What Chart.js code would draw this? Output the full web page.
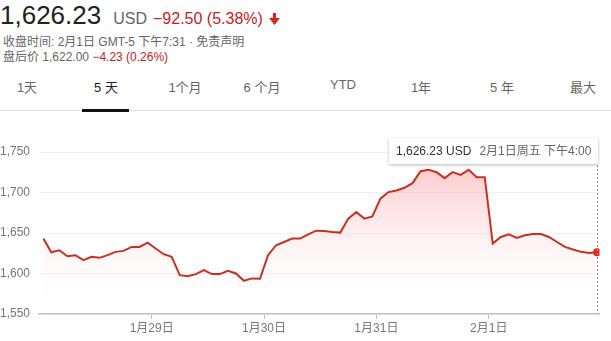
<!DOCTYPE html>
<html>
<head>
<meta charset="utf-8">
<script src="https://cdn.jsdelivr.net/npm/chart.js@4.4.0/dist/chart.umd.min.js"></script>
<style>
  body { margin: 0; width: 611px; height: 341px; overflow: hidden; background: #fff;
         font-family: 'Liberation Sans', Arial, 'Noto Sans CJK SC', sans-serif; position: relative; }
  .abs { position: absolute; white-space: nowrap; }
  #price { left: 0; top: 0px; font-size: 26px; color: #222; }
  #price .cur { font-size: 16px; color: #666; margin-left: 12px; }
  #price .chg { font-size: 16px; color: #c5221f; margin-left: 6px; }
  #price svg { margin-left: 6px; vertical-align: -1px; }
  .sub { left: 3px; font-size: 12px; color: #666; }
  .red { color: #c5221f; }
  .tab { top: 77px; font-size: 13px; color: #666; transform: translateX(-50%); }
  .tab.on { color: #222; }
  #sep { left: 0; top: 110px; width: 611px; height: 1px; background: #e2e2e2; }
  #bar { left: 82px; top: 109px; width: 47px; height: 3px; background: #111; }
  #chart { position: absolute; left: 0; top: 120px; }
  #tip { left: 389px; top: 138px; width: 209px; height: 26px; background: #fff;
         box-shadow: 0 1px 3px rgba(0,0,0,0.28); font-size: 12px; line-height: 26px; }
  #tip .v { color: #333; margin-left: 7px; }
  #tip .d { color: #666; margin-left: 8px; }
</style>
</head>
<body>
<div id="price" class="abs">1,626.23<span class="cur">USD</span><span class="chg">−92.50 (5.38%)</span><svg width="11" height="12" viewBox="0 0 11 12"><rect x="4" y="0" width="3" height="6" fill="#d5281c"/><polygon points="0,5 11,5 5.5,12" fill="#d5281c"/></svg></div>
<div class="abs sub" style="top:32px">收盘时间: 2月1日 GMT-5 下午7:31 · 免责声明</div>
<div class="abs sub" style="top:47px">盘后价 1,622.00 <span class="red">−4.23 (0.26%)</span></div>

<div class="abs tab" style="left:27px">1天</div>
<div class="abs tab on" style="left:106px">5 天</div>
<div class="abs tab" style="left:185px">1个月</div>
<div class="abs tab" style="left:262px">6 个月</div>
<div class="abs tab" style="left:343px">YTD</div>
<div class="abs tab" style="left:421px">1年</div>
<div class="abs tab" style="left:502px">5 年</div>
<div class="abs tab" style="left:583px">最大</div>
<div id="sep" class="abs"></div>
<div id="bar" class="abs"></div>

<canvas id="chart" width="611" height="221"></canvas>
<div id="tip" class="abs"><span class="v"></span><span class="d"></span></div>

<script>
// 5 trading days, 14 samples each (half-hourly)
const pointsPerDay = 14;
const prices = [
  1643.2, 1626.3, 1628.8, 1621.4, 1622.7, 1616.5, 1620.6, 1619.4, 1622.7, 1626.8, 1628.0, 1632.9, 1632.9, 1638.1,
  1630.9, 1623.9, 1620.6, 1598.0, 1596.8, 1599.3, 1604.2, 1599.3, 1599.3, 1603.3, 1600.1, 1591.0, 1594.0, 1593.5,
  1622.7, 1635.0, 1639.0, 1643.2, 1643.2, 1648.5, 1653.0, 1652.6, 1651.4, 1650.6, 1667.9, 1676.0, 1667.9, 1670.7,
  1692.5, 1700.7, 1702.7, 1706.0, 1711.7, 1726.5, 1728.2, 1725.3, 1717.9, 1725.3, 1722.0, 1728.2, 1719.1, 1719.1,
  1637.0, 1645.2, 1648.5, 1644.0, 1647.3, 1648.9, 1648.9, 1645.2, 1639.0, 1632.9, 1629.7, 1626.8, 1625.5, 1626.23
];
const dayLabels = ['1月29日', '1月30日', '1月31日', '2月1日'];
const yTicks = [1550, 1600, 1650, 1700, 1750];
const lastDateText = '2月1日周五 下午4:00';
const currency = 'USD';

const fontFamily = "'Liberation Sans', Arial, 'Noto Sans CJK SC', sans-serif";
const last = prices.length - 1;
const points = prices.map((v, i) => ({ x: i, y: v }));
const dayTicks = dayLabels.map((_, k) => ({ value: (k + 1) * pointsPerDay - 0.5 }));

document.querySelector('#tip .v').textContent =
  prices[last].toLocaleString('en-US', { minimumFractionDigits: 2 }) + ' ' + currency;
document.querySelector('#tip .d').textContent = lastDateText;

const hoverLine = {
  id: 'hoverLine',
  afterDatasetsDraw(chart) {
    const { ctx, chartArea, scales } = chart;
    const x = Math.round(scales.x.getPixelForValue(last)) + 0.5;
    ctx.save();
    ctx.strokeStyle = '#8a8a8a';
    ctx.lineWidth = 1;
    ctx.setLineDash([2, 2]);
    ctx.beginPath();
    ctx.moveTo(x, 45);
    ctx.lineTo(x, chartArea.bottom);
    ctx.stroke();
    ctx.restore();
  }
};

new Chart(document.getElementById('chart').getContext('2d'), {
  type: 'line',
  data: {
    datasets: [{
      data: points,
      borderColor: '#c9301f',
      borderWidth: 2,
      tension: 0,
      pointRadius: c => c.dataIndex === last ? 4 : 0,
      pointBackgroundColor: '#e8281c',
      pointBorderWidth: 0,
      fill: 'start',
      backgroundColor: c => {
        const area = c.chart.chartArea;
        if (!area) return 'rgba(240,80,90,0.15)';
        const g = c.chart.ctx.createLinearGradient(0, area.top + 30, 0, area.bottom);
        g.addColorStop(0, 'rgba(244,90,100,0.32)');
        g.addColorStop(0.6, 'rgba(250,170,175,0.10)');
        g.addColorStop(1, 'rgba(255,255,255,0)');
        return g;
      }
    }]
  },
  options: {
    responsive: false,
    animation: false,
    devicePixelRatio: 1,
    layout: { padding: { top: 16, right: 11.5, left: 0, bottom: 0 } },
    plugins: { legend: { display: false }, tooltip: { enabled: false } },
    scales: {
      x: {
        type: 'linear',
        min: -0.6,
        max: 69.3,
        afterBuildTicks: s => { s.ticks = dayTicks.map(t => ({ ...t })); },
        afterFit: s => { s.height = 27; },
        grid: { drawOnChartArea: false, drawTicks: true, tickLength: 5, color: '#bbb' },
        border: { color: '#c4c4c4', width: 1.5 },
        ticks: {
          padding: 2,
          color: '#777',
          font: { family: fontFamily, size: 12 },
          callback: (v, i) => dayLabels[i]
        }
      },
      y: {
        min: 1550,
        max: 1770,
        afterBuildTicks: s => { s.ticks = yTicks.map(v => ({ value: v })); },
        afterFit: s => { s.width = 38.5; },
        grid: { color: '#f1f1f1', drawTicks: false },
        border: { display: false },
        ticks: {
          crossAlign: 'far',
          padding: 4,
          color: '#777',
          font: { family: fontFamily, size: 12 },
          callback: v => v.toLocaleString('en-US')
        }
      }
    }
  },
  plugins: [hoverLine]
});
</script>
</body>
</html>
